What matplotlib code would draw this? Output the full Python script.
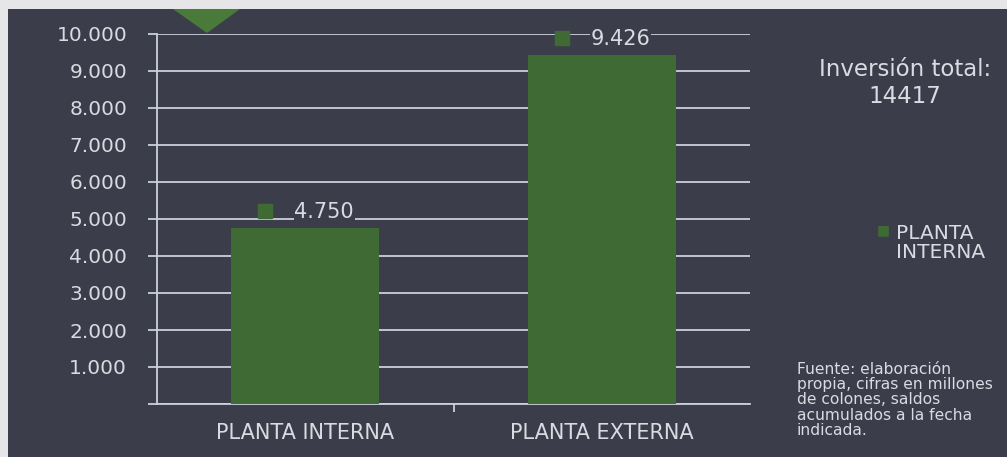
import matplotlib
matplotlib.use("Agg")
import matplotlib.pyplot as plt
from matplotlib.patches import Rectangle, Polygon

categorias = ["PLANTA INTERNA", "PLANTA EXTERNA"]
valores = [4750, 9426]
etiquetas = ["4.750", "9.426"]
yticks = [0, 1000, 2000, 3000, 4000, 5000, 6000, 7000, 8000, 9000, 10000]
ytick_labels = ["", "1.000", "2.000", "3.000", "4.000", "5.000", "6.000",
                "7.000", "8.000", "9.000", "10.000"]

fondo = "#3b3e4a"
verde = "#3f6a33"
texto = "#d9dbe2"
linea = "#ccd0dc"

plt.rcParams['font.family'] = ['DejaVu Sans']

fig = plt.figure(figsize=(10.07, 4.57), dpi=100, facecolor="#e6e6e8")
# dark scanned panel
fig.patches.append(Rectangle((8 / 1007, 0), 1, 1 - 9 / 457, transform=fig.transFigure,
                             facecolor=fondo, edgecolor="none", zorder=-2))
# green corner of something cut off at the top
fig.patches.append(Polygon([(173 / 1007, 1 - 9 / 457), (240 / 1007, 1 - 9 / 457),
                            (207 / 1007, 1 - 33 / 457)], closed=True,
                           transform=fig.transFigure, facecolor="#4a7a3a",
                           edgecolor="none", zorder=-1))

ax = fig.add_axes([157 / 1007, 1 - 404 / 457, (750 - 157) / 1007, (404 - 34) / 457])
ax.set_facecolor("none")

x = list(range(len(categorias)))
ax.bar(x, valores, width=0.5, color=verde, zorder=3)

ax.set_ylim(0, 10000)
ax.set_xlim(-0.5, 1.5)
ax.set_yticks(yticks)
ax.set_yticklabels(ytick_labels, color=texto, fontsize=14.5)
ax.set_xticks(x)
ax.set_xticklabels(categorias, color=texto, fontsize=15)
ax.tick_params(axis="x", length=0, pad=14)
ax.tick_params(axis="y", length=6.5, color=linea, width=1.3, pad=15)
ax.set_xticks([0.5], minor=True)
ax.tick_params(axis="x", which="minor", length=6, color=linea, width=1.3, direction="out")

ax.grid(axis="y", color=linea, linewidth=1.3, zorder=1)
for s in ["top", "right"]:
    ax.spines[s].set_visible(False)
ax.spines["left"].set_color(linea)
ax.spines["bottom"].set_color(linea)
ax.spines["left"].set_linewidth(1.3)
ax.spines["bottom"].set_linewidth(1.3)

# data labels: small green key square + value
for xi, v, lab in zip(x, valores, etiquetas):
    ax.annotate(lab, (xi, v), xytext=(19, 16), textcoords="offset pixels",
                ha="center", va="center", color=texto, fontsize=15, zorder=5,
                bbox=dict(facecolor=fondo, edgecolor="none", pad=0.5))
    ax.plot([xi - 40 / 296.5], [v + 17 / 0.037], marker="s", markersize=10,
            color=verde, linestyle="none", zorder=6, clip_on=False)

fig.text(905 / 1007, 1 - 83 / 457, "Inversión total:\n14417", ha="center", va="center",
         color=texto, fontsize=16.5, linespacing=1.2)

fig.text(883 / 1007, 1 - 230 / 457, "■", ha="center", va="center", color=verde, fontsize=10)
fig.text(896 / 1007, 1 - 243 / 457, "PLANTA\nINTERNA", ha="left", va="center",
         color=texto, fontsize=14.5, linespacing=1.05)

fig.text(797 / 1007, 1 - 400 / 457,
         "Fuente: elaboración\npropia, cifras en millones\nde colones, saldos\n"
         "acumulados a la fecha\nindicada.",
         ha="left", va="center", color=texto, fontsize=11.2, linespacing=1.02)

fig.savefig("out.png", dpi=100, facecolor=fig.get_facecolor())
